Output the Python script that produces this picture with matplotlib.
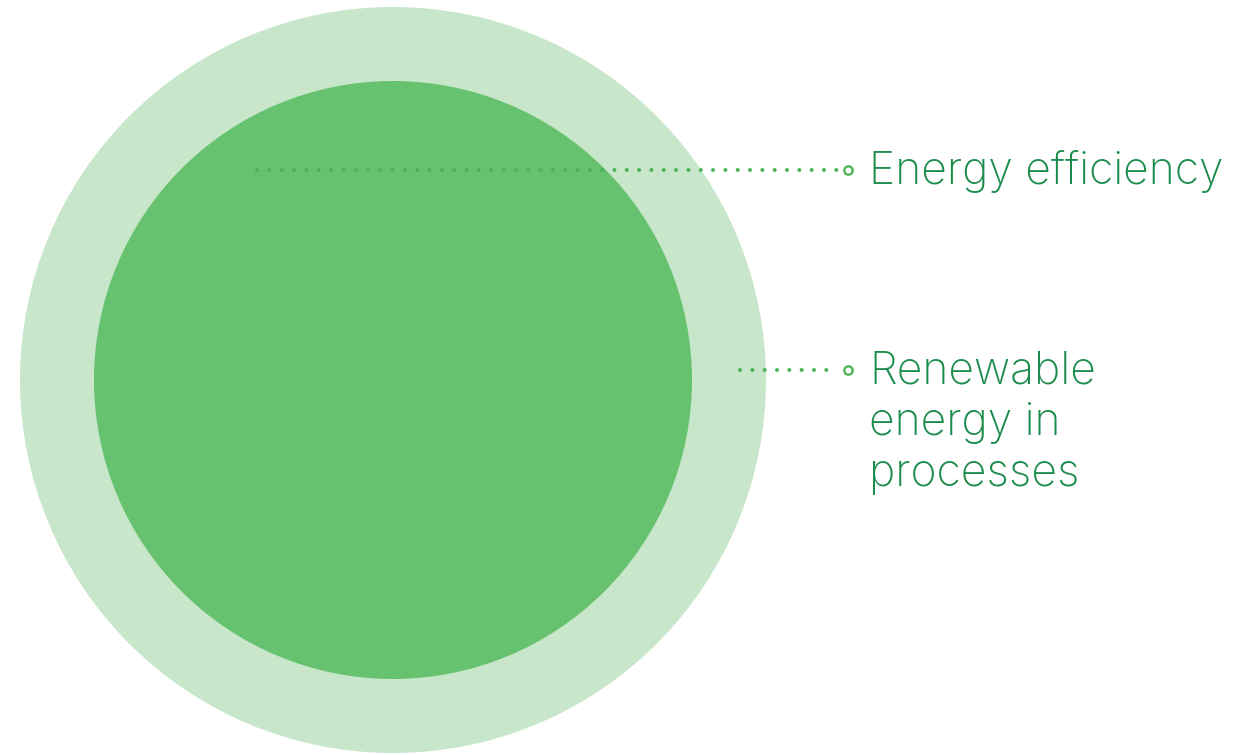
import matplotlib
matplotlib.use("Agg")
import matplotlib.pyplot as plt
from matplotlib.patches import Circle

# two nested shares, drawn as concentric discs (pixel coordinates)
center = (393, 380)
radii = [373, 299]
fills = ["#c8e7ca", "#67c270"]

# leader lines: start x, y, and the label they point to
labels = ["Energy efficiency", "Renewable\nenergy in\nprocesses"]
leader_start = [257, 740]
leader_y = [170, 370]
leader_end = 848
label_x = 869
line_step = 51

line_green = "#4cb356"
text_green = "#1b8c4b"

fig = plt.figure(figsize=(12.5, 7.55), dpi=100)
ax = fig.add_axes([0, 0, 1, 1])
ax.set_xlim(0, 1250)
ax.set_ylim(755, 0)
ax.set_aspect("equal")
ax.axis("off")

for r, c in zip(radii, fills):
    ax.add_patch(Circle(center, r, facecolor=c, edgecolor="none"))

for x0, y, lab in zip(leader_start, leader_y, labels):
    ax.plot([x0, leader_end - 10], [y, y], color=line_green, lw=2.9,
            linestyle=(0, (0.01, 3.05)), dash_capstyle="round")
    ax.plot([leader_end], [y], marker="o", ms=6, mfc="white",
            mec=line_green, mew=1.7)
    for k, line in enumerate(lab.split("\n")):
        ax.text(label_x, y + 14 + k * line_step, line, color=text_green,
                fontsize=32, family="Inter", fontweight="light",
                va="baseline", ha="left")

fig.savefig("out.png", dpi=100)
